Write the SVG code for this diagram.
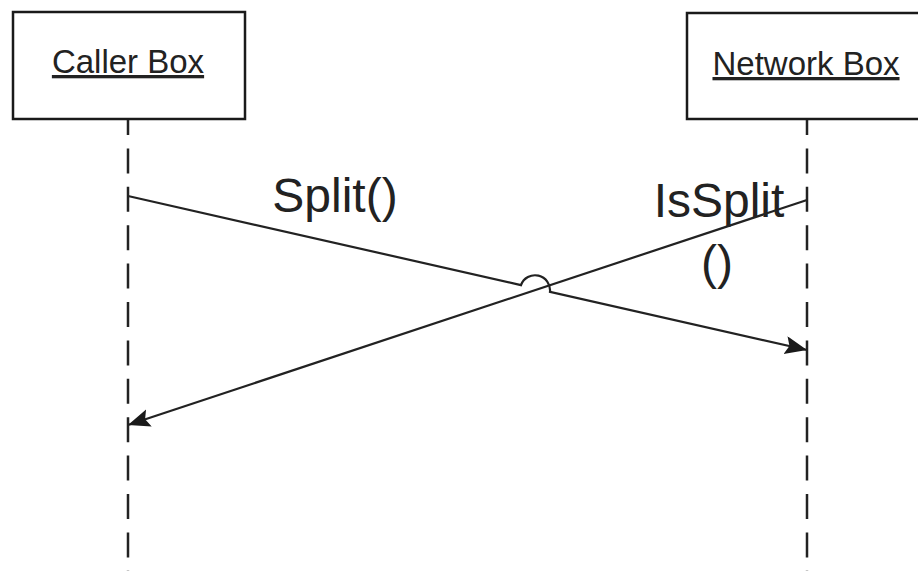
<svg xmlns="http://www.w3.org/2000/svg" width="918" height="571" viewBox="0 0 918 571">
<style>
.box{fill:#fff;stroke:#1a1a1a;stroke-width:2.5}
.lbl{font-family:"Liberation Sans",Arial,sans-serif;font-size:33px;fill:#222;text-anchor:middle;text-decoration:underline}
.life{stroke:#222;stroke-width:2.5;stroke-dasharray:25 13.4;stroke-dashoffset:10;fill:none}
.msg{stroke:#222;stroke-width:2.2;fill:none;marker-end:url(#ah)}
.mt{font-family:"Liberation Sans",Arial,sans-serif;font-size:48px;fill:#222;text-anchor:middle}
</style>
<defs>
<marker id="ah" markerUnits="userSpaceOnUse" markerWidth="24" markerHeight="20" refX="22" refY="9" orient="auto">
<path d="M0,0 L22,9 L0,18 L4,9 Z" fill="#1a1a1a"/>
</marker>
</defs>
<rect width="918" height="571" fill="#fff"/>
<g id="caller">
<rect class="box" x="13" y="12" width="232" height="107"/>
<text class="lbl" x="128" y="73">Caller Box</text>
</g>
<g id="network">
<rect class="box" x="687" y="13" width="240" height="106"/>
<text class="lbl" x="806" y="75">Network Box</text>
</g>
<g id="connectors">
<line class="life" x1="128" y1="120" x2="128" y2="571"/>
<line class="life" x1="807" y1="120" x2="807" y2="571"/>
<path class="msg" d="M128,196 L521,285.1 A15,15 0 0 1 550,291.8 L807,350"/>
<path class="msg" d="M807,200 L128,425"/>
</g>
<g id="labels">
<text class="mt" x="335" y="212">Split()</text>
<text class="mt" x="719" y="217">IsSplit</text>
<text class="mt" x="717" y="279">()</text>
</g>
</svg>
